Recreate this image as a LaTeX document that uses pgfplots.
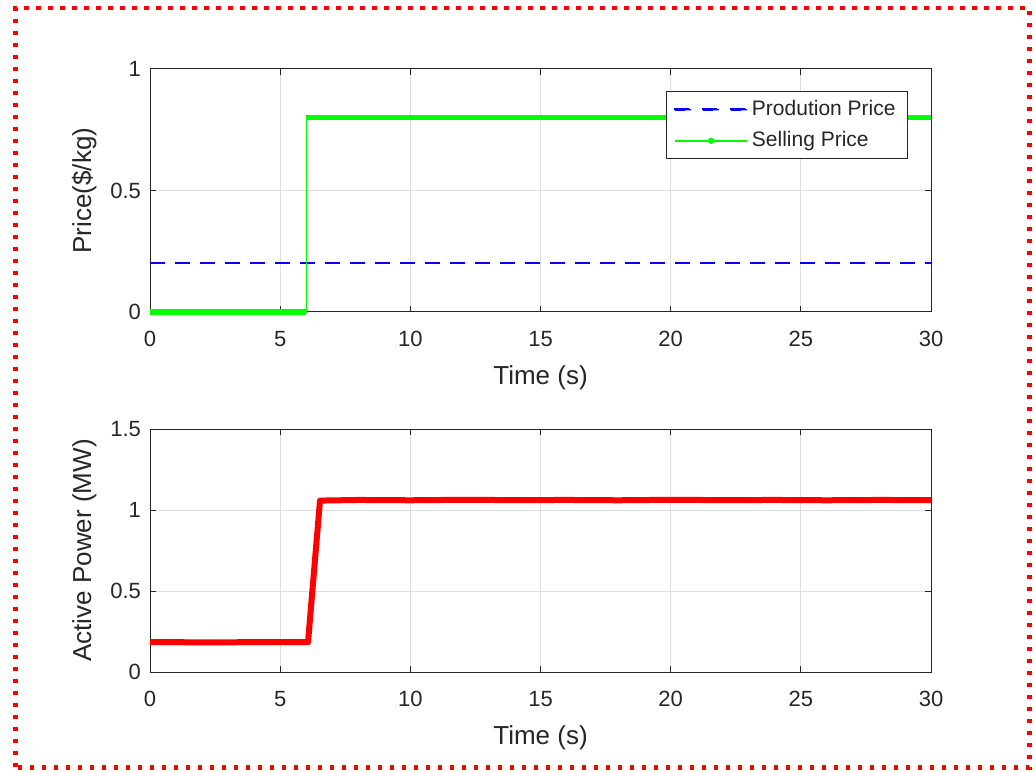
\documentclass[border=0pt]{standalone}
\usepackage{fontspec}
\setmainfont{Liberation Sans}
\usepackage{pgfplots}
\pgfplotsset{compat=1.18}
\definecolor{axgray}{gray}{0.15}
\definecolor{mblue}{RGB}{0,0,255}
\definecolor{mgreen}{RGB}{0,255,0}
\definecolor{mred}{RGB}{255,0,0}
\pgfplotsset{
  mystyle/.style={
    width=390.5pt, height=121.5pt, scale only axis,
    xmin=0, xmax=30, xtick={0,5,...,30},
    grid=major, major grid style={black!13, line width=0.5pt},
    tick align=inside, major tick length=3pt,
    axis line style={axgray, line width=0.5pt},
    every tick/.style={axgray, line width=0.5pt},
    tick label style={font=\fontsize{11}{12}\selectfont, text=axgray},
    xticklabel style={yshift=-6pt},
    yticklabel style={xshift=-1pt},
    label style={font=\fontsize{13}{14}\selectfont, text=axgray},
    /pgf/number format/assume math mode=true,
    xlabel={Time (s)},
    xlabel style={yshift=-2.5pt},
    clip=false,
  }
}
\begin{document}
\begin{tikzpicture}
\useasboundingbox (0,0) rectangle (518pt,385.5pt);
\draw[mred, line width=2.3pt, dash pattern=on 2.4pt off 3.6pt] (7.8pt,1.8pt) rectangle (514.8pt,381.5pt);
\begin{axis}[mystyle, at={(75pt,229.5pt)}, anchor=south west,
  ymin=0, ymax=1, ytick={0,0.5,1},
  ylabel={Price(\$/kg)},
  legend style={at={(axis description cs:0.9706,0.9095)}, anchor=north east,
    font=\fontsize{10.5}{12}\selectfont, text=axgray, draw=axgray, line width=0.5pt,
    row sep=2.5pt, inner xsep=4pt, inner ysep=2.5pt, cells={anchor=west}},
]
\addplot[draw=mblue, line width=0.9pt, dash pattern=on 7.5pt off 5pt,
  legend image code/.code={\color{mblue}\fill[fill=mblue] (0pt,-0.35pt) rectangle (8pt,0.35pt) (14pt,-0.35pt) rectangle (22pt,0.35pt) (28pt,-0.35pt) rectangle (36pt,0.35pt);}] coordinates {(0,0.2) (30,0.2)};
\addlegendentry{Prodution Price}
\addplot[draw=mgreen, line width=0.7pt,
  legend image code/.code={\draw[mgreen, line width=0.7pt] (0pt,0pt) -- (36pt,0pt); \fill[mgreen] (18pt,0pt) circle (1.2pt);}] coordinates {(0,0) (6,0) (6,0.8) (30,0.8)};
\addlegendentry{Selling Price}
\addplot[draw=mgreen, line width=2.6pt, forget plot] coordinates {(0,0) (6,0)};
\addplot[draw=mgreen, line width=2.6pt, forget plot] coordinates {(6,0.8) (30,0.8)};
\end{axis}
\begin{axis}[mystyle, at={(75pt,49.5pt)}, anchor=south west,
  ymin=0, ymax=1.5, ytick={0,0.5,1,1.5},
  ylabel={Active Power (MW)},
]
\addplot[draw=mred, line width=3pt, line join=round] coordinates {
(0,0.185) (2,0.183) (4,0.184) (6.07,0.184) (6.53,1.058) (8,1.062) (10,1.060) (12,1.063) (14,1.061) (16,1.062) (18,1.060) (20,1.063) (22,1.061) (24,1.062) (26,1.060) (28,1.062) (30,1.061)};
\end{axis}
\end{tikzpicture}
\end{document}
